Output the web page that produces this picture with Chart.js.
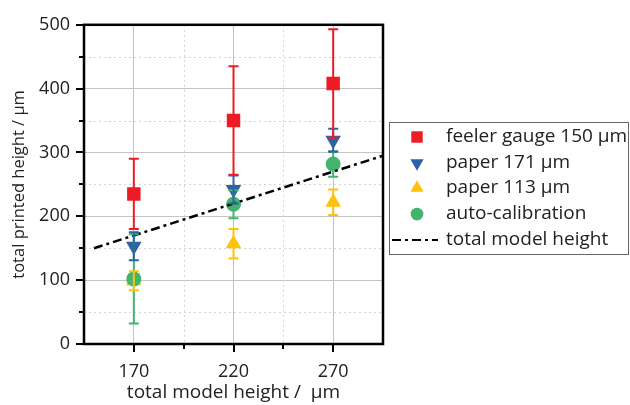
<!DOCTYPE html>
<html>
<head>
<meta charset="utf-8">
<script src="https://cdn.jsdelivr.net/npm/chart.js@4/dist/chart.umd.min.js"></script>
<style>
  body { margin: 0; background: #fff; }
  #wrap { width: 630px; height: 405px; }
</style>
</head>
<body>
<div id="wrap"><canvas id="scatterChart"></canvas></div>
<script>
// data
var modelHeights = [170, 220, 270];
var feelerGauge = [235, 350, 408];
var feelerGaugeErr = [55, 85, 85];
var paper171 = [153, 242, 319];
var paper171Err = [22, 22, 18];
var paper113 = [99, 157, 222];
var paper113Err = [15, 23, 20];
var autoCal = [102, 219, 282];
var autoCalErr = [70, 22, 20];
var modelLineX = [150, 295];
var modelLineY = [150, 295];
var xTicks = [170, 195, 220, 245, 270];
var xLabelTicks = [170, 220, 270];

var FONT = "'Open Sans', sans-serif";

function pts(xs, ys) {
    return xs.map(function (x, i) { return { x: x, y: ys[i] }; });
}

var errors = {
    0: feelerGaugeErr,
    1: paper171Err,
    2: paper113Err,
    3: autoCalErr
};

var frame = {
    id: 'frame',
    beforeDatasetsDraw: function (chart) {
        var c = chart.ctx, a = chart.chartArea;
        var xs = chart.scales.x, ys = chart.scales.y;
        c.save();
        // minor dotted grid
        c.strokeStyle = '#d4d4d4';
        c.lineWidth = 1;
        c.setLineDash([2, 3]);
        [195, 245].forEach(function (v) {
            var px = Math.round(xs.getPixelForValue(v)) + 0.5;
            c.beginPath(); c.moveTo(px, a.top); c.lineTo(px, a.bottom); c.stroke();
        });
        [50, 150, 250, 350, 450].forEach(function (v) {
            var py = Math.round(ys.getPixelForValue(v)) + 0.5;
            c.beginPath(); c.moveTo(a.left, py); c.lineTo(a.right, py); c.stroke();
        });
        c.restore();
    },
    afterDatasetsDraw: function (chart) {
        var c = chart.ctx;
        var xs = chart.scales.x, ys = chart.scales.y;
        c.save();
        c.lineWidth = 2;
        // error bars, drawn over the symbols
        [3, 2, 1, 0].forEach(function (di) {
            var ds = chart.data.datasets[di];
            var errs = errors[di];
            c.strokeStyle = ds.borderColor;
            ds.data.forEach(function (p, i) {
                var px = xs.getPixelForValue(p.x);
                var top = ys.getPixelForValue(p.y + errs[i]);
                var bot = ys.getPixelForValue(p.y - errs[i]);
                c.beginPath();
                c.moveTo(px, top); c.lineTo(px, bot);
                c.moveTo(px - 5, top); c.lineTo(px + 5, top);
                c.moveTo(px - 5, bot); c.lineTo(px + 5, bot);
                c.stroke();
            });
        });
        c.restore();
    },
    afterDraw: function (chart) {
        var c = chart.ctx, a = chart.chartArea;
        var xs = chart.scales.x, ys = chart.scales.y;
        c.save();
        // ticks
        c.strokeStyle = '#000';
        c.lineWidth = 2;
        xTicks.forEach(function (v) {
            var px = Math.round(xs.getPixelForValue(v));
            var len = xLabelTicks.indexOf(v) >= 0 ? 8 : 5;
            c.beginPath(); c.moveTo(px, a.bottom); c.lineTo(px, a.bottom + len); c.stroke();
        });
        for (var v = 0; v <= 500; v += 50) {
            var py = Math.round(ys.getPixelForValue(v));
            var len = v % 100 === 0 ? 8 : 5;
            c.beginPath(); c.moveTo(a.left, py); c.lineTo(a.left - len, py); c.stroke();
        }
        // frame
        c.lineWidth = 2.5;
        c.strokeRect(a.left, a.top, a.right - a.left, a.bottom - a.top);

        // axis titles
        c.fillStyle = '#222';
        c.font = '19px ' + FONT;
        c.textAlign = 'center';
        c.textBaseline = 'middle';
        c.fillText('total model height /  µm', (a.left + a.right) / 2, 393);
        c.font = '16.5px ' + FONT;
        c.translate(19, (a.top + a.bottom) / 2);
        c.rotate(-Math.PI / 2);
        c.fillText('total printed height / µm', 0, 0);
        c.restore();

        // legend
        c.save();
        c.strokeStyle = '#666';
        c.lineWidth = 1;
        c.strokeRect(389.5, 122.5, 239, 132);
        c.font = '19px ' + FONT;
        c.fillStyle = '#222';
        c.textAlign = 'left';
        c.textBaseline = 'middle';
        var rowY = [137, 163, 188, 214, 240];
        chart.data.datasets.forEach(function (ds, i) {
            var y = rowY[i];
            if (ds.showLine) {
                c.save();
                c.strokeStyle = '#000';
                c.lineWidth = 2;
                c.setLineDash(ds.borderDash);
                c.beginPath(); c.moveTo(392, y); c.lineTo(438, y); c.stroke();
                c.restore();
            } else {
                c.fillStyle = ds.backgroundColor;
                c.beginPath();
                Chart.helpers.drawPoint(c, {
                    pointStyle: ds.pointStyle,
                    rotation: ds.rotation || 0,
                    radius: ds.pointRadius * 0.85,
                    borderWidth: 0
                }, 417, y);
                c.fillStyle = '#222';
            }
            c.fillText(ds.label, 446, y);
        });
        c.restore();
    }
};

var ctx = document.getElementById('scatterChart').getContext('2d');
var myChart = new Chart(ctx, {
    type: 'scatter',
    data: {
        datasets: [{
            label: 'feeler gauge 150 µm',
            data: pts(modelHeights, feelerGauge),
            pointStyle: 'rect',
            pointRadius: 9.5,
            backgroundColor: '#ed1c24',
            borderColor: '#ed1c24',
            borderWidth: 0,
            order: 4
        }, {
            label: 'paper 171 µm',
            data: pts(modelHeights, paper171),
            pointStyle: 'triangle',
            rotation: 180,
            pointRotation: 180,
            pointRadius: 9,
            backgroundColor: '#2d62a6',
            borderColor: '#2d62a6',
            borderWidth: 0,
            order: 3
        }, {
            label: 'paper 113 µm',
            data: pts(modelHeights, paper113),
            pointStyle: 'triangle',
            pointRadius: 9,
            backgroundColor: '#ffc20e',
            borderColor: '#ffc20e',
            borderWidth: 0,
            order: 2
        }, {
            label: 'auto-calibration',
            data: pts(modelHeights, autoCal),
            pointStyle: 'circle',
            pointRadius: 7.5,
            backgroundColor: '#42b46e',
            borderColor: '#42b46e',
            borderWidth: 0,
            order: 1
        }, {
            label: 'total model height',
            data: pts(modelLineX, modelLineY),
            showLine: true,
            borderColor: '#000',
            borderWidth: 2.5,
            borderDash: [9, 4, 3, 4],
            pointRadius: 0,
            order: 0
        }]
    },
    options: {
        responsive: true,
        maintainAspectRatio: false,
        animation: false,
        events: [],
        layout: { padding: { left: 0, right: 247, top: 18, bottom: 0 } },
        plugins: { legend: { display: false }, tooltip: { enabled: false } },
        scales: {
            x: {
                type: 'linear',
                min: 145,
                max: 295,
                afterFit: function (scale) { scale.height = 61; },
                afterBuildTicks: function (scale) {
                    scale.ticks = xLabelTicks.map(function (v) { return { value: v }; });
                },
                grid: { color: '#c4c4c4', lineWidth: 1, drawTicks: false },
                border: { display: false },
                ticks: {
                    padding: 17,
                    color: '#222',
                    font: { family: FONT, size: 18 }
                }
            },
            y: {
                min: 0,
                max: 500,
                afterFit: function (scale) { scale.width = 84; },
                grid: { color: '#c4c4c4', lineWidth: 1, drawTicks: false },
                border: { display: false },
                ticks: {
                    stepSize: 100,
                    padding: 14,
                    color: '#222',
                    font: { family: FONT, size: 18 }
                }
            }
        }
    },
    plugins: [frame]
});
</script>
</body>
</html>
